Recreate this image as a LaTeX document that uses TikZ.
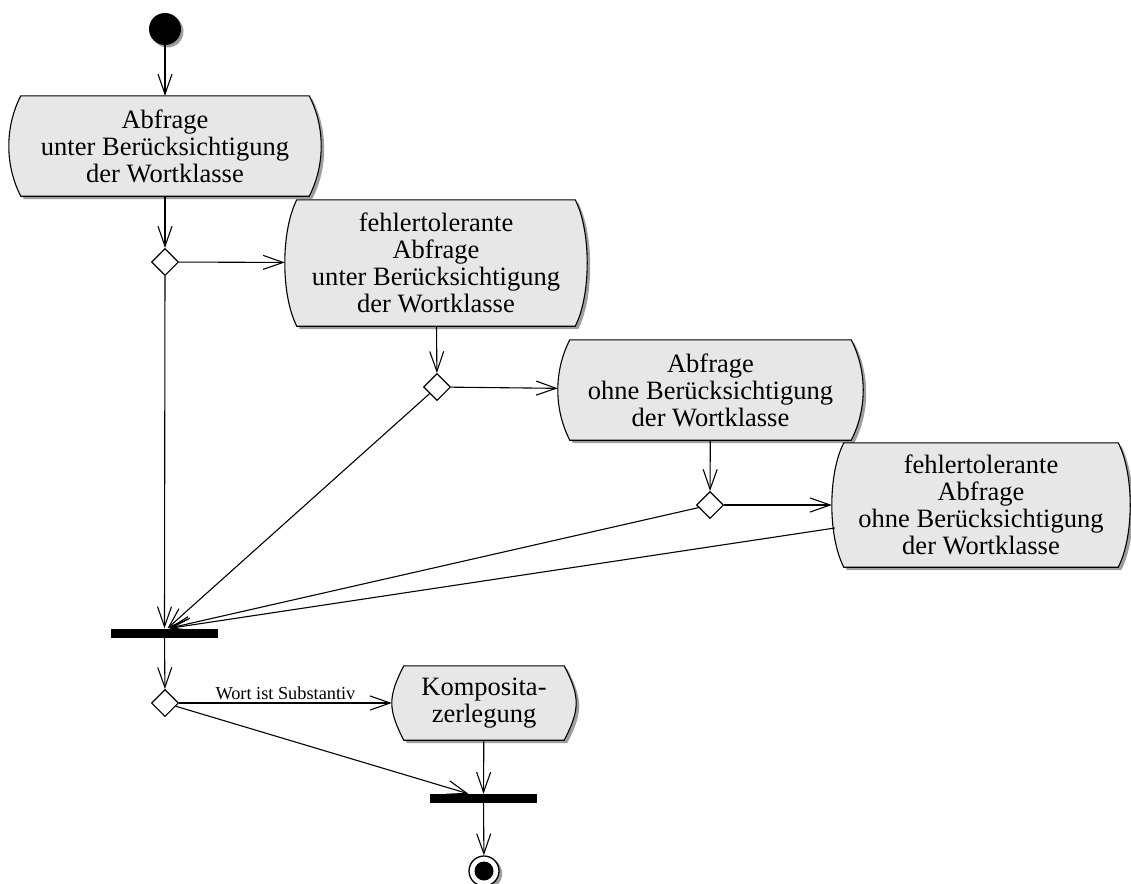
\documentclass[tikz,border=0pt]{standalone}
\usepackage{fontspec}
\setmainfont{Liberation Serif}
\usetikzlibrary{arrows.meta,shapes.geometric,backgrounds}

\definecolor{boxgray}{gray}{0.905}
\definecolor{shadowgray}{gray}{0.62}

\tikzset{
  x=1pt, y=-1pt,
  flow/.style={line width=1.1pt, -{Straight Barb[length=20pt,width=14pt,line width=1.1pt]}},
  actbox/.style={rectangle, inner sep=0pt, align=center,
    font=\fontsize{26.5}{27}\selectfont},
  choice/.style={diamond, draw, line width=1.1pt, fill=white,
    minimum width=27pt, minimum height=27pt, inner sep=0pt},
  syncbar/.style={rectangle, fill=black, inner sep=0pt,
    minimum width=107pt, minimum height=9pt},
  guard/.style={font=\fontsize{18.3}{20}\selectfont, above, inner sep=3pt},
}

% outline of an action: flat top and bottom, sides bulging outwards
\newcommand\actpath[1]{([xshift=12pt]#1.north west) -- ([xshift=-12pt]#1.north east)
  .. controls +(16,31) and +(16,-31) .. ([xshift=-12pt]#1.south east)
  -- ([xshift=12pt]#1.south west)
  .. controls +(-16,-31) and +(-16,31) .. cycle}

\begin{document}
\begin{tikzpicture}
\useasboundingbox (0,0) rectangle (1131,883);

% initial and final states
\node (start) [circle, fill=black, minimum size=32pt, inner sep=0pt] at (165,29) {};
\node (stop) [circle, draw, line width=1.3pt, fill=white, minimum size=30pt, inner sep=0pt] at (484,871) {};
\fill (stop.center) circle (9.5pt);

% actions
\node (a1) [actbox, minimum width=312pt, minimum height=100pt] at (165,146)
  {Abfrage\\unter Berücksichtigung\\der Wortklasse};
\node (a2) [actbox, minimum width=302pt, minimum height=126pt] at (436,263)
  {fehlertolerante\\Abfrage\\unter Berücksichtigung\\der Wortklasse};
\node (a3) [actbox, minimum width=305pt, minimum height=100pt] at (710.5,390)
  {Abfrage\\ohne Berücksichtigung\\der Wortklasse};
\node (a4) [actbox, minimum width=298pt, minimum height=124pt] at (981,505)
  {fehlertolerante\\Abfrage\\ohne Berücksichtigung\\der Wortklasse};
\node (a5) [actbox, minimum width=184pt, minimum height=74pt] at (484,703)
  {Komposita-\\zerlegung};

% decisions
\node (d1) [choice] at (165,262) {};
\node (d2) [choice] at (437,387) {};
\node (d3) [choice] at (710,505) {};
\node (d4) [choice] at (165,703) {};

% synchronisation bars
\node (bar1) [syncbar] at (164.5,633) {};
\node (bar2) [syncbar] at (483.5,798.5) {};

% shapes behind the texts
\begin{pgfonlayer}{background}
  \foreach \n in {a1,a2,a3,a4,a5} {
    \fill[shadowgray, transform canvas={xshift=3pt,yshift=-3pt}] \actpath{\n};
    \filldraw[fill=boxgray, line width=1.1pt] \actpath{\n};
  }
  \fill[shadowgray] ([xshift=2.5pt,yshift=-2.5pt]start.center) circle (16pt);
  \fill[shadowgray] ([xshift=2.5pt,yshift=-2.5pt]stop.center) circle (15.6pt);
\end{pgfonlayer}

% control flow
\draw[flow] (start) -- (a1);
\draw[flow] (a1) -- (d1);
\draw[flow] (d1) -- (a2);
\draw[flow] (d1) -- (bar1.north);
\draw[flow] (a2) -- (d2);
\draw[flow] (d2) -- (a3);
\draw[flow] (d2) -- ([xshift=3pt]bar1.north);
\draw[flow] (a3) -- (d3);
\draw[flow] (d3) -- (a4);
\draw[flow] (d3) -- ([xshift=4pt]bar1.north);
\draw[flow] ([xshift=3pt,yshift=-23pt]a4.west) -- ([xshift=5pt]bar1.north);
\draw[flow] (bar1) -- (d4);
\draw[flow] (d4) -- node[guard] {Wort ist Substantiv} (a5);
\draw[flow] (d4) -- ([xshift=-15pt]bar2.north);
\draw[flow] (a5) -- (bar2);
\draw[flow] (bar2) -- (stop);
\end{tikzpicture}
\end{document}
